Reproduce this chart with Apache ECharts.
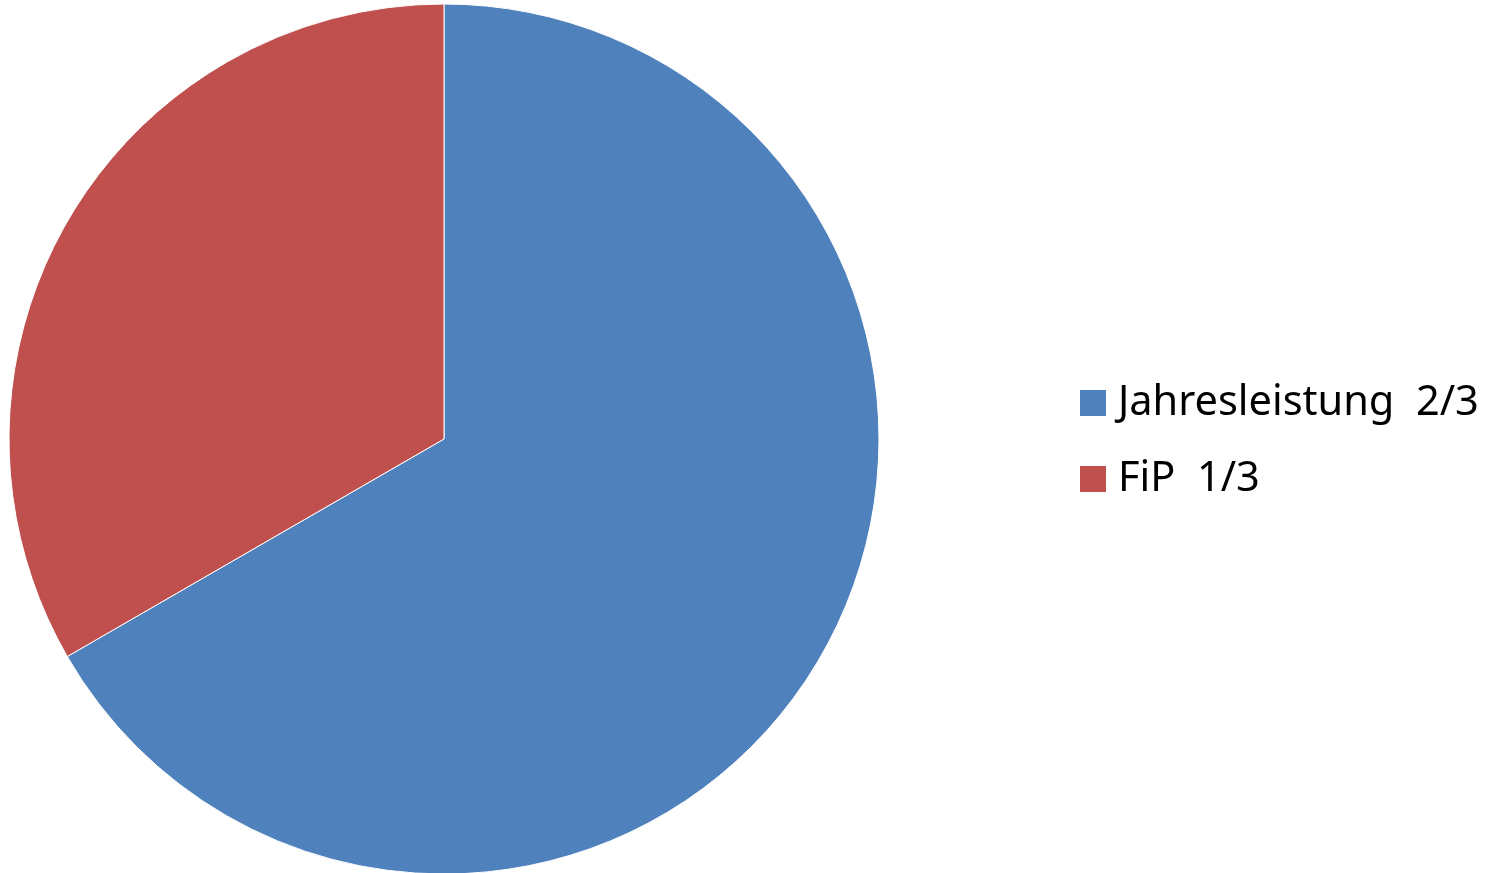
<!DOCTYPE html>
<html>
<head>
<meta charset="utf-8">
<script src="https://cdn.jsdelivr.net/npm/echarts@6/dist/echarts.min.js"></script>
<style>
html,body{margin:0;padding:0;background:#fff;}
#c{width:1495px;height:873px;}
</style>
</head>
<body>
<div id="c"></div>
<script>
const categories = ['Jahresleistung  2/3', 'FiP  1/3'];
const values = [2, 1];
const colors = ['#4F81BD', '#C0504D'];

const chart = echarts.init(document.getElementById('c'), null, {renderer: 'canvas'});
chart.setOption({
  animation: false,
  backgroundColor: '#fff',
  legend: {
    orient: 'vertical',
    left: 1080,
    top: 382,
    padding: 0,
    itemWidth: 26,
    itemHeight: 26,
    itemGap: 34,
    icon: 'rect',
    selectedMode: false,
    itemStyle: {borderWidth: 0},
    textStyle: {fontFamily: 'Noto Sans', fontSize: 41.5, color: '#000', lineHeight: 26, padding: [0,0,0,7]},
    data: categories
  },
  series: [{
    type: 'pie',
    center: [444, 439],
    radius: [0, 435],
    startAngle: 90,
    clockwise: true,
    label: {show: false},
    labelLine: {show: false},
    emphasis: {disabled: true},
    itemStyle: {borderColor: '#fff', borderWidth: 1},
    data: categories.map((n, i) => ({name: n, value: values[i], itemStyle: {color: colors[i]}}))
  }]
});
</script>
</body>
</html>
